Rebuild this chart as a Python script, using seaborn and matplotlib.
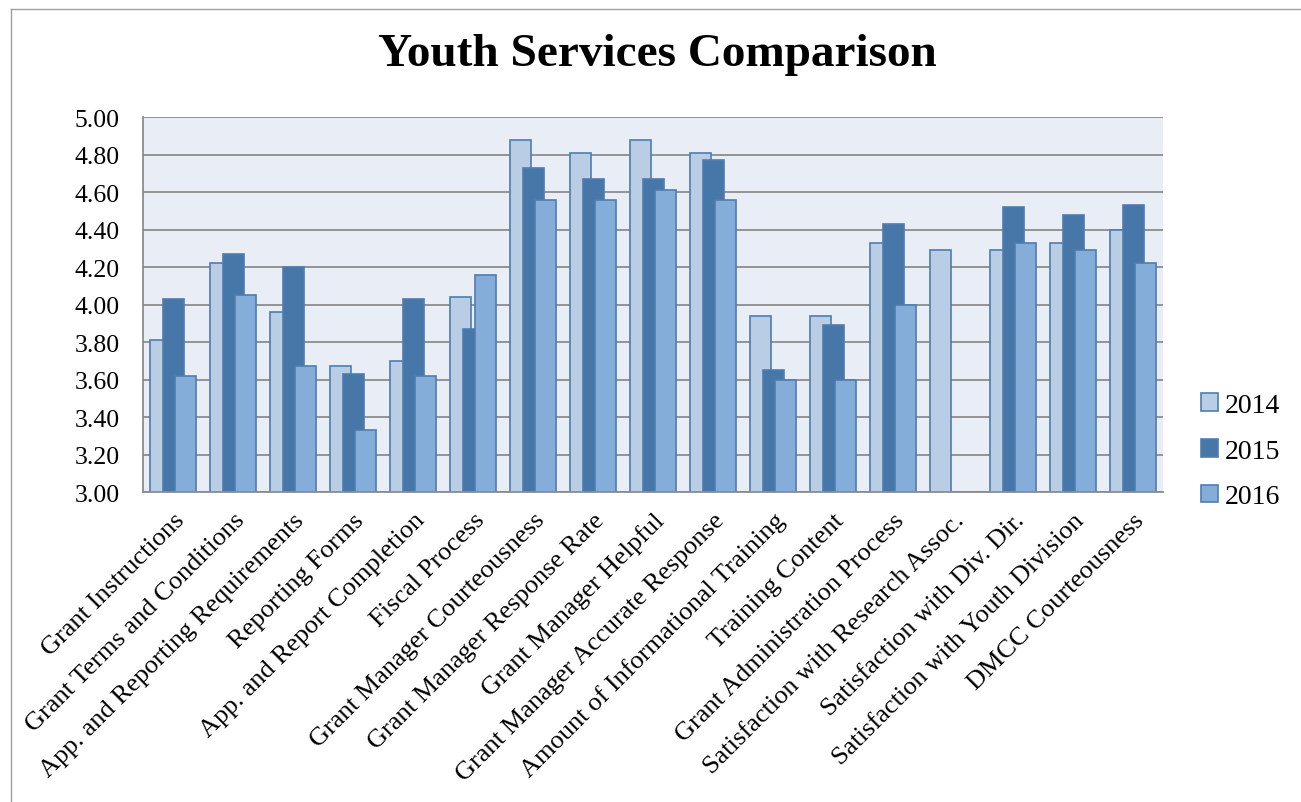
import numpy as np
import pandas as pd
import seaborn as sns
import matplotlib.pyplot as plt
from matplotlib.patches import Rectangle
from matplotlib.lines import Line2D

categories = ['Grant Instructions', 'Grant Terms and Conditions', 'App. and Reporting Requirements',
              'Reporting Forms', 'App. and Report Completion', 'Fiscal Process',
              'Grant Manager Courteousness', 'Grant Manager Response Rate', 'Grant Manager Helpful',
              'Grant Manager Accurate Response', 'Amount of Informational Training', 'Training Content',
              'Grant Administration Process', 'Satisfaction with Research Assoc.',
              'Satisfaction with Div. Dir.', 'Satisfaction with Youth Division', 'DMCC Courteousness']
years = ['2014', '2015', '2016']
v2014 = [3.81, 4.22, 3.96, 3.67, 3.70, 4.04, 4.88, 4.81, 4.88, 4.81, 3.94, 3.94, 4.33, 4.29, 4.29, 4.33, 4.40]
v2015 = [4.03, 4.27, 4.20, 3.63, 4.03, 3.87, 4.73, 4.67, 4.67, 4.77, 3.65, 3.89, 4.43, np.nan, 4.52, 4.48, 4.53]
v2016 = [3.62, 4.05, 3.67, 3.33, 3.62, 4.16, 4.56, 4.56, 4.61, 4.56, 3.60, 3.60, 4.00, np.nan, 4.33, 4.29, 4.22]

df = pd.DataFrame({'category': categories * 3,
                   'year': [y for y in years for _ in categories],
                   'score': v2014 + v2015 + v2016})

colors = ['#B9CDE5', '#4677A8', '#84AED9']
edge = '#4F7DB0'

plt.rcParams['font.family'] = ['Liberation Serif', 'DejaVu Serif']
fig = plt.figure(figsize=(13.01, 8.03), dpi=100)
ax = fig.add_axes([0.110, 0.386, 0.784, 0.467])
ax.set_facecolor('#E9EDF6')

sns.barplot(data=df, x='category', y='score', hue='year', order=categories, hue_order=years,
            palette=colors, saturation=1, width=0.63, edgecolor=edge, linewidth=1.2, ax=ax, legend=False)

# widen bars so neighbouring years overlap like the original
bw = 0.35
for p in ax.patches:
    if np.isnan(p.get_height()):
        continue
    cx = p.get_x() + p.get_width() / 2
    p.set_width(bw)
    p.set_x(cx - bw / 2)

ax.set_ylim(3.0, 5.0)
ax.set_xlim(-0.5, len(categories) - 0.5)
ax.set_yticks(np.arange(3.0, 5.01, 0.2))
ax.set_yticklabels(['%.2f' % t for t in np.arange(3.0, 5.01, 0.2)], fontsize=18.5)
ax.yaxis.grid(True, color='#8C8C8C', linewidth=1.3)
ax.set_axisbelow(True)
ax.set_xticks(range(len(categories)))
ax.set_xticklabels(categories, rotation=45, ha='right', rotation_mode='anchor', fontsize=19)
ax.tick_params(axis='x', length=0, pad=12)
ax.tick_params(axis='y', length=0, pad=17)
ax.set_xlabel('')
ax.set_ylabel('')
for s in ['top', 'right']:
    ax.spines[s].set_visible(False)
for s in ['left', 'bottom']:
    ax.spines[s].set_color('#8C8C8C')
    ax.spines[s].set_linewidth(1.3)

handles = [Rectangle((0, 0), 1, 1, facecolor=c, edgecolor=edge, linewidth=1.2) for c in colors]
fig.legend(handles, years, loc='center left', bbox_to_anchor=(0.904, 0.437), frameon=False,
           fontsize=20, handlelength=0.6, handleheight=0.6, handletextpad=0.25, labelspacing=0.75)

fig.suptitle('Youth Services Comparison', x=0.505, fontsize=34, fontweight='bold', y=0.958)

# outer chart border (only left/top visible in the original crop)
fig.add_artist(Line2D([0.0085, 0.0085], [0, 0.988], transform=fig.transFigure, color='#A0A0A0', linewidth=1.0))
fig.add_artist(Line2D([0.0085, 1.0], [0.988, 0.988], transform=fig.transFigure, color='#A0A0A0', linewidth=1.0))

fig.savefig('out.png', dpi=100)
